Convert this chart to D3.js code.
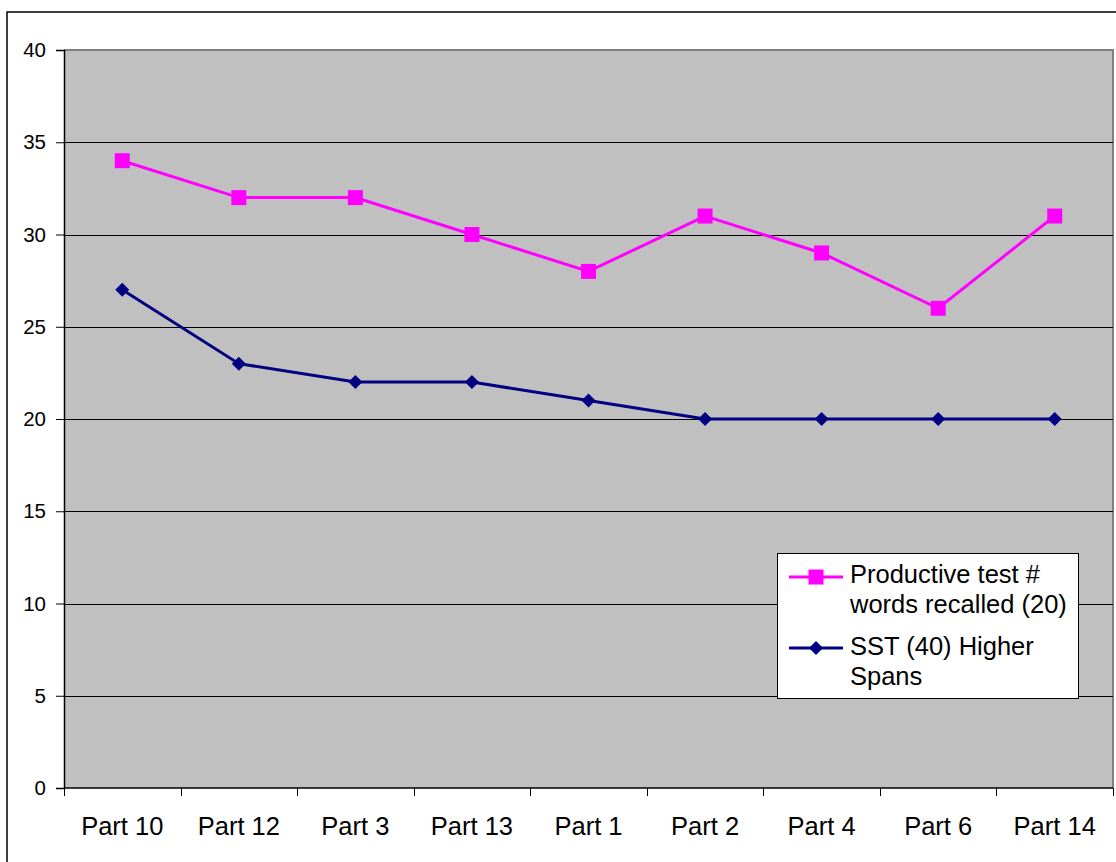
<!DOCTYPE html>
<html>
<head>
<meta charset="utf-8">
<script src="https://cdn.jsdelivr.net/npm/d3@7"></script>
<style>
  html, body { margin: 0; padding: 0; background: #fff; }
  svg { display: block; font-family: Arial, "Liberation Sans", sans-serif; }
</style>
</head>
<body>
<svg id="chart" width="1116" height="862"></svg>
<script>
// Categories along the x axis
const categories = ["Part 10", "Part 12", "Part 3", "Part 13", "Part 1", "Part 2", "Part 4", "Part 6", "Part 14"];
// Series values
const productive = [34, 32, 32, 30, 28, 31, 29, 26, 31];
const sst = [27, 23, 22, 22, 21, 20, 20, 20, 20];
// Y tick labels
const yTicks = [0, 5, 10, 15, 20, 25, 30, 35, 40];

const seriesNames = ["Productive test #|words recalled (20)", "SST (40) Higher|Spans"];

const svg = d3.select("#chart");

// Chart frame
svg.append("rect")
  .attr("x", 7).attr("y", 12)
  .attr("width", 1140).attr("height", 880)
  .attr("fill", "#fff").attr("stroke", "#000").attr("stroke-width", 1.5);

const plot = { left: 64, top: 50, right: 1113, bottom: 788 };

const x = d3.scaleBand().domain(categories).range([plot.left, plot.right]).padding(0);
const y = d3.scaleLinear().domain([0, 40]).range([plot.bottom, plot.top]);

// Plot background
svg.append("rect")
  .attr("x", plot.left).attr("y", plot.top)
  .attr("width", plot.right - plot.left).attr("height", plot.bottom - plot.top)
  .attr("fill", "#c0c0c0");

// Top and right plot border
svg.append("path")
  .attr("d", `M${plot.left},${plot.top}H${plot.right}V${plot.bottom}`)
  .attr("fill", "none").attr("stroke", "#808080").attr("stroke-width", 2);

// Horizontal gridlines
svg.append("g")
  .selectAll("line")
  .data(yTicks.filter(d => d > 0 && d < 40))
  .join("line")
  .attr("x1", plot.left).attr("x2", plot.right)
  .attr("y1", d => Math.round(y(d)) + 0.5).attr("y2", d => Math.round(y(d)) + 0.5)
  .attr("stroke", "#000").attr("stroke-width", 1);

// Y axis
const yAxis = svg.append("g")
  .attr("transform", `translate(${plot.left},0)`)
  .call(d3.axisLeft(y).tickValues(yTicks).tickSize(8).tickPadding(10).tickFormat(d3.format("d")));
yAxis.select(".domain").attr("stroke", "#000").attr("stroke-width", 1.5);
yAxis.selectAll(".tick line").attr("stroke", "#000");
yAxis.selectAll(".tick text")
  .attr("font-size", 20.5).attr("fill", "#000")
  .attr("font-family", "Arial, 'Liberation Sans', sans-serif");

// X axis: ticks on category boundaries
const xAxis = svg.append("g")
  .attr("transform", `translate(0,${plot.bottom})`);
xAxis.append("line")
  .attr("x1", plot.left).attr("x2", plot.right)
  .attr("y1", 0).attr("y2", 0)
  .attr("stroke", "#000").attr("stroke-width", 1.5);
const boundaries = categories.map(c => x(c)).concat([x(categories[categories.length - 1]) + x.bandwidth()]);
xAxis.selectAll("line.tick")
  .data(boundaries)
  .join("line")
  .attr("class", "tick")
  .attr("x1", d => Math.round(d) + 0.5).attr("x2", d => Math.round(d) + 0.5)
  .attr("y1", 0).attr("y2", 8)
  .attr("stroke", "#000");
xAxis.selectAll("text")
  .data(categories)
  .join("text")
  .attr("x", d => x(d) + x.bandwidth() / 2)
  .attr("y", 47)
  .attr("text-anchor", "middle")
  .attr("font-size", 25.5)
  .attr("fill", "#000")
  .text(d => d);

const cx = d => x(d) + x.bandwidth() / 2;
const line = d3.line().x(d => cx(d.c)).y(d => y(d.v));

const series = [
  { name: seriesNames[0], values: productive, color: "#ff00ff", marker: "square" },
  { name: seriesNames[1], values: sst, color: "#000080", marker: "diamond" }
];

const squareSym = d3.symbol().type(d3.symbolSquare).size(225);
const diamondPath = "M0,-7L7,0L0,7L-7,0Z";

series.forEach(s => {
  const pts = categories.map((c, i) => ({ c, v: s.values[i] }));
  svg.append("path")
    .datum(pts)
    .attr("d", line)
    .attr("fill", "none")
    .attr("stroke", s.color)
    .attr("stroke-width", 3);
  svg.append("g")
    .selectAll("path")
    .data(pts)
    .join("path")
    .attr("transform", d => `translate(${cx(d.c)},${y(d.v)})`)
    .attr("d", s.marker === "square" ? squareSym() : diamondPath)
    .attr("fill", s.color);
});

// Legend
const legend = svg.append("g");
legend.append("rect")
  .attr("x", 777.5).attr("y", 553.5)
  .attr("width", 301).attr("height", 145)
  .attr("fill", "#fff").attr("stroke", "#000").attr("stroke-width", 1);

const legendRows = [
  { s: series[0], ly: 577, ty: 583 },
  { s: series[1], ly: 648, ty: 655 }
];
legendRows.forEach(r => {
  legend.append("line")
    .attr("x1", 789).attr("x2", 843)
    .attr("y1", r.ly).attr("y2", r.ly)
    .attr("stroke", r.s.color).attr("stroke-width", 3);
  legend.append("path")
    .attr("transform", `translate(816,${r.ly})`)
    .attr("d", r.s.marker === "square" ? squareSym() : diamondPath)
    .attr("fill", r.s.color);
  const t = legend.append("text")
    .attr("x", 850).attr("y", r.ty)
    .attr("font-size", 25.5).attr("fill", "#000");
  r.s.name.split("|").forEach((part, i) => {
    t.append("tspan").attr("x", 850).attr("dy", i === 0 ? 0 : 29.5).text(part);
  });
});
</script>
</body>
</html>
